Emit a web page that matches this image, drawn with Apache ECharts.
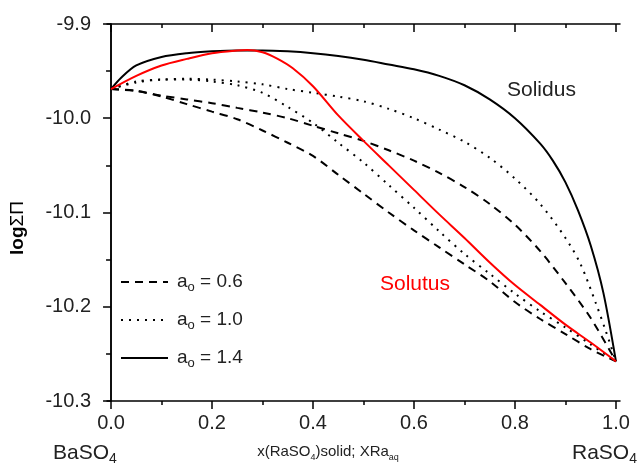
<!DOCTYPE html>
<html>
<head>
<meta charset="utf-8">
<script src="https://cdn.jsdelivr.net/npm/echarts@6/dist/echarts.min.js"></script>
<style>html,body{margin:0;padding:0;background:#fff}#c{width:639px;height:465px}</style>
</head>
<body>
<div id="c"></div>
<script>
// ---- data ----
const xTickValues = [0, 0.2, 0.4, 0.6, 0.8, 1.0];
const xMinorValues = [0.1, 0.3, 0.5, 0.7, 0.9];
const legendNames = ['a0 = 0.6', 'a0 = 1.0', 'a0 = 1.4'];
const legendValues = ['0.6', '1.0', '1.4'];

const xGrid = [0, 0.05, 0.1, 0.15, 0.2, 0.25, 0.3, 0.35, 0.4, 0.45, 0.5, 0.55, 0.6, 0.65, 0.7, 0.75, 0.8, 0.85, 0.9, 0.95, 1.0];

// a0 = 1.4 solidus (solid black)
const xSolidus14 = [0, 0.02, 0.05, 0.1, 0.15, 0.2, 0.25, 0.3, 0.35, 0.4, 0.45, 0.5, 0.55, 0.6, 0.65, 0.7, 0.75, 0.8, 0.85, 0.875, 0.9, 0.925, 0.95, 0.975, 1.0];
const ySolidus14 = [-9.969, -9.957, -9.944, -9.935, -9.931, -9.929, -9.928, -9.928, -9.929, -9.931, -9.934, -9.938, -9.943, -9.948, -9.955, -9.965, -9.980, -10.000, -10.027, -10.045, -10.068, -10.098, -10.135, -10.185, -10.258];

// a0 = 1.4 solutus (red)
const xSolutus14 = [0, 0.05, 0.1, 0.15, 0.2, 0.25, 0.27, 0.3, 0.33, 0.36, 0.4, 0.45, 0.5, 0.55, 0.6, 0.65, 0.7, 0.75, 0.8, 0.85, 0.9, 0.95, 1.0];
const ySolutus14 = [-9.969, -9.955, -9.944, -9.937, -9.931, -9.928, -9.9275, -9.930, -9.937, -9.947, -9.966, -9.997, -10.024, -10.050, -10.076, -10.102, -10.127, -10.153, -10.177, -10.198, -10.219, -10.238, -10.258];

// a0 = 1.0 solidus (dotted)
const xSolidus10 = [0, 0.05, 0.1, 0.15, 0.2, 0.25, 0.3, 0.35, 0.4, 0.45, 0.5, 0.55, 0.6, 0.65, 0.7, 0.75, 0.8, 0.85, 0.9, 0.93, 0.96, 0.98, 1.0];
const ySolidus10 = [-9.969, -9.961, -9.959, -9.958, -9.959, -9.961, -9.964, -9.969, -9.973, -9.977, -9.982, -9.990, -10.000, -10.012, -10.025, -10.042, -10.064, -10.091, -10.127, -10.155, -10.196, -10.226, -10.258];

// a0 = 1.0 solutus (dotted)
const ySolutus10 = [-9.969, -9.962, -9.959, -9.959, -9.961, -9.965, -9.973, -9.988, -10.005, -10.026, -10.047, -10.071, -10.095, -10.120, -10.144, -10.165, -10.186, -10.205, -10.222, -10.240, -10.258];

// a0 = 0.6 solidus (dashed)
const ySolidus06 = [-9.969, -9.971, -9.976, -9.980, -9.984, -9.989, -9.994, -10.000, -10.008, -10.016, -10.024, -10.034, -10.045, -10.058, -10.073, -10.091, -10.113, -10.141, -10.175, -10.212, -10.258];

// a0 = 0.6 solutus (dashed)
const ySolutus06 = [-9.969, -9.971, -9.977, -9.985, -9.993, -10.001, -10.013, -10.026, -10.040, -10.060, -10.080, -10.100, -10.119, -10.137, -10.155, -10.173, -10.195, -10.213, -10.229, -10.245, -10.258];

function pairs(xs, ys) { return xs.map((x, i) => [x, ys[i]]); }

const FONT = "'Liberation Sans', Arial, sans-serif";
const chart = echarts.init(document.getElementById('c'), null, { renderer: 'canvas' });

const axisLineStyle = { color: '#000', width: 1.5 };
const xRange = { min: -0.008, max: 1.008, type: 'value' };

function mkLine(name, data, color, type) {
  return {
    name: name, type: 'line', data: data, showSymbol: false, symbol: 'none',
    smooth: 0.3, silent: true,
    lineStyle: { color: color, width: 2, type: type, cap: 'butt' },
    itemStyle: { color: color },
    z: color === '#000' ? 3 : 4
  };
}

const option = {
  animation: false,
  backgroundColor: '#fff',
  textStyle: { fontFamily: FONT },
  grid: { left: 107, right: 19, top: 24, bottom: 64, containLabel: false },
  legend: {
    data: legendNames,
    orient: 'vertical',
    left: 115,
    top: 265,
    itemWidth: 47,
    itemHeight: 14,
    itemGap: 14,
    itemStyle: { color: 'rgba(0,0,0,0)', borderColor: 'rgba(0,0,0,0)', borderWidth: 0, opacity: 0 },
    textStyle: {
      fontFamily: FONT, fontSize: 19, color: '#222', lineHeight: 24, padding: [0, 0, 0, 4],
      rich: { sub: { fontFamily: FONT, fontSize: 13, color: '#222', lineHeight: 10, verticalAlign: 'bottom' } }
    },
    formatter: function (name) {
      const v = legendValues[legendNames.indexOf(name)];
      return 'a{sub|o} = ' + v;
    },
    selectedMode: false
  },
  xAxis: [
    Object.assign({}, xRange, {
      position: 'bottom',
      axisLine: { show: true, lineStyle: axisLineStyle },
      axisTick: { show: true, inside: false, length: 8, customValues: xTickValues, lineStyle: { color: '#000', width: 1.5 } },
      axisLabel: { show: true, customValues: xTickValues, formatter: v => Number(v).toFixed(1), fontSize: 20, color: '#222', margin: 12, fontFamily: FONT },
      splitLine: { show: false }
    }),
    Object.assign({}, xRange, {
      position: 'bottom',
      axisLine: { show: false },
      axisTick: { show: true, inside: false, length: 4, customValues: xMinorValues, lineStyle: { color: '#000', width: 1.5 } },
      axisLabel: { show: false },
      splitLine: { show: false }
    }),
    Object.assign({}, xRange, {
      position: 'top',
      axisLine: { show: true, lineStyle: axisLineStyle },
      axisTick: { show: true, inside: true, length: 8, customValues: xTickValues, lineStyle: { color: '#000', width: 1.5 } },
      axisLabel: { show: false },
      splitLine: { show: false }
    }),
    Object.assign({}, xRange, {
      position: 'top',
      axisLine: { show: false },
      axisTick: { show: true, inside: true, length: 4, customValues: xMinorValues, lineStyle: { color: '#000', width: 1.5 } },
      axisLabel: { show: false },
      splitLine: { show: false }
    })
  ],
  yAxis: [
    {
      type: 'value', position: 'left', min: -10.3, max: -9.9, interval: 0.1,
      axisLine: { show: true, lineStyle: axisLineStyle },
      axisTick: { show: true, inside: false, length: 8, lineStyle: { color: '#000', width: 1.5 } },
      minorTick: { show: true, splitNumber: 2, length: 4, lineStyle: { color: '#000', width: 1.5 } },
      axisLabel: { formatter: v => Number(v).toFixed(1), fontSize: 20, color: '#222', margin: 16, fontFamily: FONT },
      splitLine: { show: false }, minorSplitLine: { show: false }
    },
    {
      type: 'value', position: 'right', min: -10.3, max: -9.9, interval: 0.1,
      axisLine: { show: true, lineStyle: axisLineStyle },
      axisTick: { show: true, inside: true, length: 8, lineStyle: { color: '#000', width: 1.5 } },
      minorTick: { show: true, splitNumber: 2, length: 5, lineStyle: { color: '#000', width: 1.5 } },
      axisLabel: { show: false },
      splitLine: { show: false }, minorSplitLine: { show: false }
    }
  ],
  series: [
    mkLine('a0 = 0.6', pairs(xGrid, ySolidus06), '#000', [8, 6]),
    mkLine('solutus 0.6', pairs(xGrid, ySolutus06), '#000', [8, 6]),
    mkLine('a0 = 1.0', pairs(xSolidus10, ySolidus10), '#000', [2, 6]),
    mkLine('solutus 1.0', pairs(xGrid, ySolutus10), '#000', [2, 6]),
    mkLine('a0 = 1.4', pairs(xSolidus14, ySolidus14), '#000', 'solid'),
    mkLine('solutus 1.4', pairs(xSolutus14, ySolutus14), '#ff0000', 'solid')
  ],
  graphic: [
    { type: 'text', left: 507, top: 80, style: { text: 'Solidus', font: '21px ' + FONT, fill: '#222' } },
    { type: 'text', left: 380, top: 274, style: { text: 'Solutus', font: '21px ' + FONT, fill: '#ff0000' } },
    {
      type: 'text', x: 328, y: 452,
      style: {
        text: 'x(RaSO{sub|4})solid; XRa{sub|aq}', fill: '#222', font: '15px ' + FONT, align: 'center', verticalAlign: 'middle', lineHeight: 20,
        rich: { sub: { fontSize: 9, fontFamily: FONT, fill: '#222', lineHeight: 8, verticalAlign: 'bottom' } }
      }
    },
    {
      type: 'text', x: 53, y: 453,
      style: {
        text: 'BaSO{sub|4}', fill: '#222', font: '21px ' + FONT, align: 'left', verticalAlign: 'middle', lineHeight: 26,
        rich: { sub: { fontSize: 14, fontFamily: FONT, fill: '#222', lineHeight: 12, verticalAlign: 'bottom' } }
      }
    },
    {
      type: 'text', x: 572, y: 453,
      style: {
        text: 'RaSO{sub|4}', fill: '#222', font: '21px ' + FONT, align: 'left', verticalAlign: 'middle', lineHeight: 26,
        rich: { sub: { fontSize: 14, fontFamily: FONT, fill: '#222', lineHeight: 12, verticalAlign: 'bottom' } }
      }
    },
    {
      type: 'text', x: 18, y: 228, rotation: Math.PI / 2,
      style: {
        text: '{b|log}ΣΠ', fill: '#000', font: '19px ' + FONT, align: 'center', verticalAlign: 'middle',
        rich: { b: { fontWeight: 'bold', fontSize: 19, fontFamily: FONT, fill: '#000' } }
      }
    }
  ]
};
chart.setOption(option);
</script>
</body>
</html>
